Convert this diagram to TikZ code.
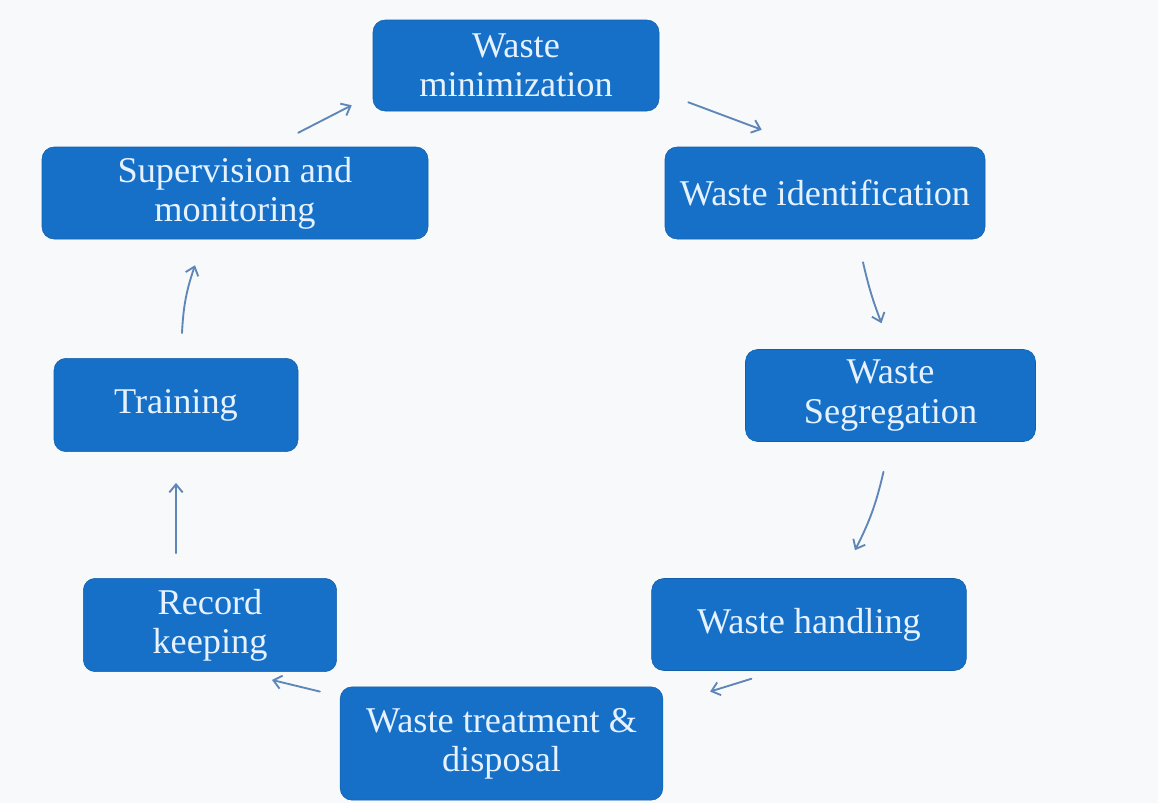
\documentclass[tikz,border=0pt]{standalone}
\usepackage{fontspec}
\setmainfont{Liberation Serif}
\usepackage{xcolor}
\usetikzlibrary{arrows.meta,calc}
\definecolor{boxblue}{HTML}{1670C8}
\definecolor{boxtext}{HTML}{E6F2FF}
\definecolor{arrowblue}{HTML}{5E87B8}
\definecolor{paper}{HTML}{F8F9FB}
\tikzset{
  stage/.style={rectangle,rounded corners=9pt,fill=boxblue,draw=boxblue!85!black,line width=0.4pt,
    text=boxtext,align=center,font=\fontsize{27.2}{29.5}\selectfont,inner sep=0pt},
  flow/.style={-{Straight Barb[length=6pt,width=10pt]},draw=arrowblue,line width=1.4pt}
}

\begin{document}
\begin{tikzpicture}[line cap=round,line join=round,x=0.75pt,y=-0.75pt]
                \fill [paper] (0,0) rectangle (1158,803);
                \useasboundingbox (0,0) rectangle (1158,803);
                % the eight stages
                \node [stage,minimum width=214.5pt,minimum height=68.25pt] (minim) at (516,65.5) {Waste\\minimization};
                \node [stage,minimum width=240pt,minimum height=69pt] (ident) at (825,193) {Waste identification};
                \node [stage,minimum width=217.5pt,minimum height=69pt] (segr) at (890.5,395.5) {Waste\\Segregation};
                \node [stage,minimum width=236pt,minimum height=69pt] (handl) at (809,624.5) {Waste handling};
                \node [stage,minimum width=242pt,minimum height=85pt] (treat) at (501.5,743.5) {Waste treatment \&\\disposal};
                \node [stage,minimum width=190pt,minimum height=70pt] (recrd) at (210,625) {Record\\keeping};
                \node [stage,minimum width=183pt,minimum height=70pt] (train) at (176,405) {Training};
                \node [stage,minimum width=289.5pt,minimum height=69pt] (superv) at (235,193) {Supervision and\\monitoring};
                % arrows round the cycle
                \draw [flow] ($(minim.south east)+(29,-9)$) to ($(ident.north west)+(97,-17)$);
                \draw [flow] ($(ident.south)+(38,23)$) to[bend right=4] ($(segr.north)+(-9,-26)$);
                \draw [flow] ($(segr.south)+(-7,30)$) to[bend left=7] ($(handl.north)+(46,-28)$);
                \draw [flow] ($(handl.south west)+(100,8)$) to ($(treat.north east)+(47,5)$);
                \draw [flow] ($(treat.north west)+(-20,5)$) to ($(recrd.south east)+(-65,8)$);
                \draw [flow] ($(recrd.north)+(-34,-25)$) to ($(train.south)+(0,31)$);
                \draw [flow] ($(train.north)+(6,-25)$) to[bend left=8] ($(superv.south)+(-40,26)$);
                \draw [flow] ($(superv.north east)+(-130,-14)$) to ($(minim.south west)+(-21,-6)$);
\end{tikzpicture}
\end{document}
